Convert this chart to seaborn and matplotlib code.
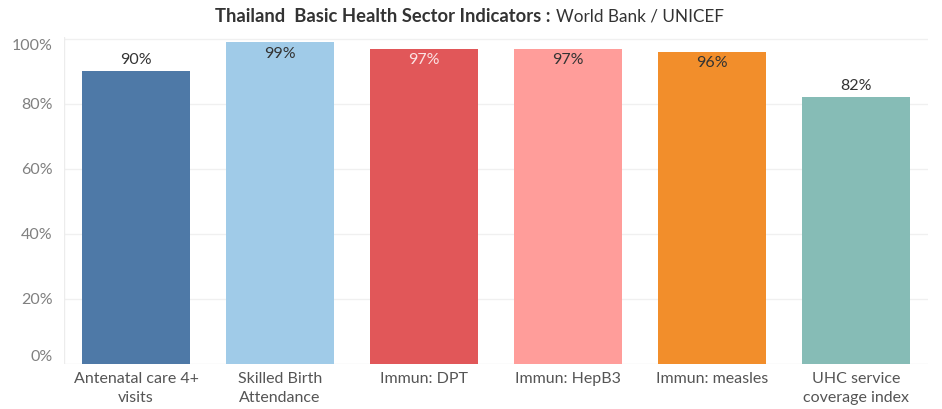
import matplotlib
matplotlib.use("Agg")
import matplotlib.pyplot as plt
import seaborn as sns
import pandas as pd

# data
categories = ["Antenatal care 4+\nvisits", "Skilled Birth\nAttendance", "Immun: DPT",
              "Immun: HepB3", "Immun: measles", "UHC service\ncoverage index"]
values = [90, 99, 97, 97, 96, 82]
colors = ["#4e79a7", "#a0cbe8", "#e15759", "#ff9d9a", "#f28e2b", "#86bcb6"]
label_colors = ["#333333", "#333333", "#fbe3e3", "#333333", "#333333", "#333333"]
yticks = [0, 20, 40, 60, 80, 100]

sns.set_theme(style="white")
plt.rcParams["font.family"] = ["Lato", "DejaVu Sans"]

df = pd.DataFrame({"cat": categories, "val": values})

fig = plt.figure(figsize=(9.42, 4.09), dpi=100)
ax = fig.add_axes([64 / 942, 45 / 409, (928 - 64) / 942, (364 - 37) / 409])

sns.barplot(data=df, x="cat", y="val", hue="cat", palette=colors, legend=False,
            width=0.75, saturation=1, linewidth=0, ax=ax)

ax.set_xlim(-0.5, 5.5)
ax.set_ylim(0, 100.6)

# grid lines
for t in yticks[1:]:
    ax.axhline(t, color="#f0f0f0", lw=1, zorder=0)
for s in ax.spines.values():
    s.set_visible(False)
ax.axhline(0, color="#ececec", lw=1, zorder=0.5)
ax.axvline(-0.5, color="#ececec", lw=1, zorder=0.5)

ax.set_yticks(yticks)
ax.set_yticklabels([f"{t}%" for t in yticks], color="#808080", fontsize=11.5)
lbls = ax.get_yticklabels()
lbls[0].set_va("bottom")
lbls[-1].set_va("top")
ax.tick_params(axis="y", length=0, pad=8)
ax.tick_params(axis="x", length=0, pad=6, labelsize=11.5, labelcolor="#555555")
for lab in ax.get_xticklabels():
    lab.set_linespacing(1.45)
ax.set_xlabel("")
ax.set_ylabel("")

# value labels: inside near top when bar is too tall
for i, (v, c) in enumerate(zip(values, label_colors)):
    y = v - 3.5 if v > 92 else v + 3.5
    ax.text(i, y, f"{v}%", ha="center", va="center", fontsize=11.5, color=c)

# title with bold first part
fig.text(0.584, 1 - 17 / 409, "Thailand  Basic Health Sector Indicators :",
         ha="right", va="center", fontsize=13.2, fontweight="bold", color="#333333")
fig.text(0.5905, 1 - 17 / 409, "World Bank / UNICEF",
         ha="left", va="center", fontsize=12.3, color="#333333")

fig.savefig("out.png", dpi=100, facecolor="white")
